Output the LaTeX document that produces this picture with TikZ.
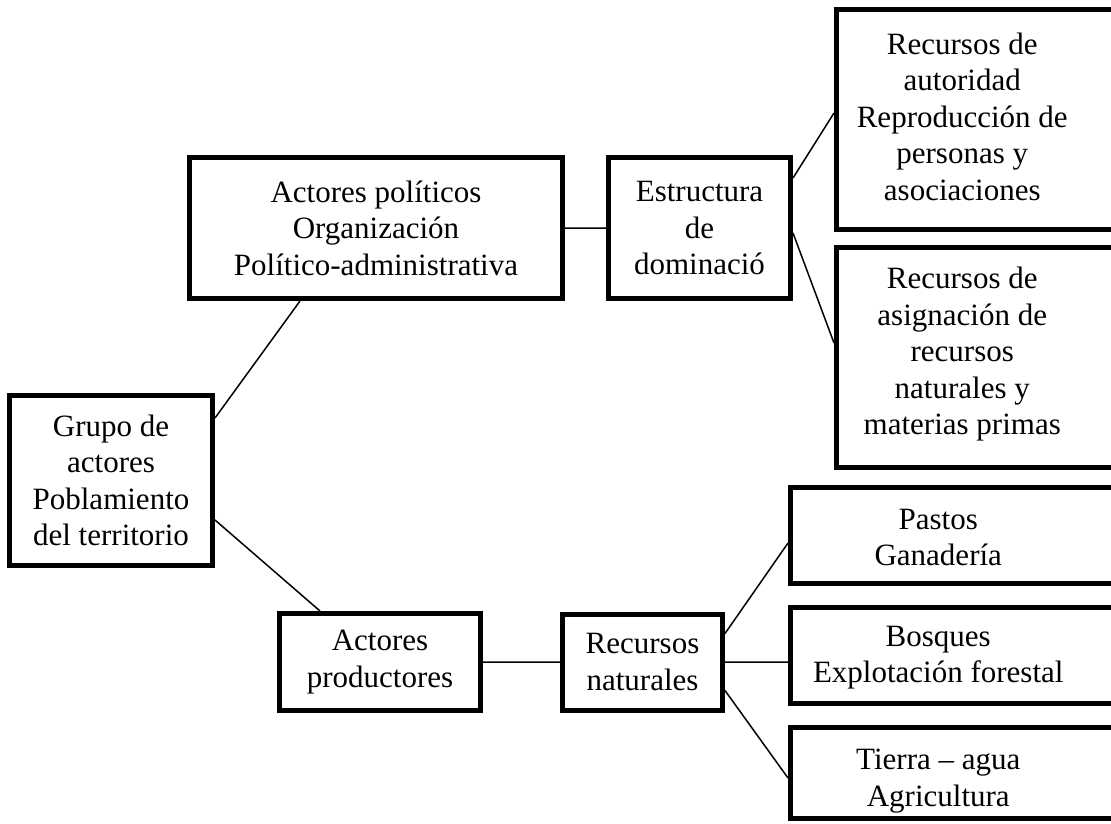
\documentclass[tikz,border=0pt]{standalone}
\usepackage{fontspec}
\setmainfont{Liberation Serif}
\usetikzlibrary{positioning}
\tikzset{Mapa/.style={
    x=1pt, y=-1pt,
    base/.style = {draw, line width=5pt, inner sep=0pt, align=center,
                   font=\fontsize{31}{36.5}\selectfont},
    caja/.style = {base},
    lado/.style = {base, minimum width=339.5pt, minimum height=96pt},
    every label/.style = {align=center, inner sep=0pt,
                          font=\fontsize{31}{36.5}\selectfont},
    enlace/.style = {line width=1.5pt}
}}

\begin{document}
\begin{tikzpicture}[Mapa]
    \useasboundingbox (0,0) rectangle (1111,823);
    \clip (0,0) rectangle (1111,823);

    % rama politica
    \node [caja, minimum width=373pt, minimum height=141pt] (politicos) at (376,228) {
        Actores políticos\\ Organización\\ Político-administrativa
    };
    \node [caja, minimum width=182pt, minimum height=141pt, right=41pt of politicos] (estructura) {
        Estructura\\ de\\ dominació
    };
    \node [caja, minimum width=293.5pt, minimum height=220pt,
           label={[xshift=-21pt, yshift=3pt]center:Recursos de\\ autoridad\\ Reproducción de\\ personas y\\ asociaciones}]
           (autoridad) at (983.25,119.5) {};
    \node [caja, minimum width=293.5pt, minimum height=220pt,
           label={[xshift=-21pt, yshift=3pt]center:Recursos de\\ asignación de\\ recursos\\ naturales y\\ materias primas}]
           (asignacion) at (983.25,357.5) {};

    % grupo central
    \node [caja, minimum width=203pt, minimum height=170pt] (grupo) at (111,480.5) {
        Grupo de\\ actores\\ Poblamiento\\ del territorio
    };

    % rama productiva
    \node [caja, minimum width=201pt, minimum height=97pt] (productores) at (380,662) {
        Actores\\ productores
    };
    \node [caja, minimum width=160pt, minimum height=96pt, right=77pt of productores] (naturales) {
        Recursos\\ naturales
    };
    \node [lado, label={[xshift=-22pt, yshift=-2pt]center:Pastos\\ Ganadería}] (pastos) at (960.25,535.5) {};
    \node [lado, label={[xshift=-22pt, yshift=-2pt]center:Bosques\\ Explotación forestal}] (bosques) at (960.25,655.5) {};
    \node [lado, minimum height=91pt, label={[xshift=-22pt, yshift=-8pt]center:Tierra -- agua\\ Agricultura}] (tierra) at (960.25,773) {};

    \draw [enlace]
    ([yshift=62.5pt]grupo.east) -- ([xshift=-76pt]politicos.south)
    ([yshift=-39.5pt]grupo.east) -- ([xshift=-60pt]productores.north)
    (politicos) -- (estructura)
    ([yshift=50pt]estructura.east) -- ([yshift=6.5pt]autoridad.west)
    ([yshift=-5pt]estructura.east) -- ([yshift=14.5pt]asignacion.west)
    (productores) -- (naturales)
    ([yshift=28.5pt]naturales.east) -- ([yshift=-7.5pt]pastos.west)
    (naturales.east) -- (naturales.east -| bosques.west)
    ([yshift=-28.5pt]naturales.east) -- ([yshift=-5pt]tierra.west);
\end{tikzpicture}
\end{document}
